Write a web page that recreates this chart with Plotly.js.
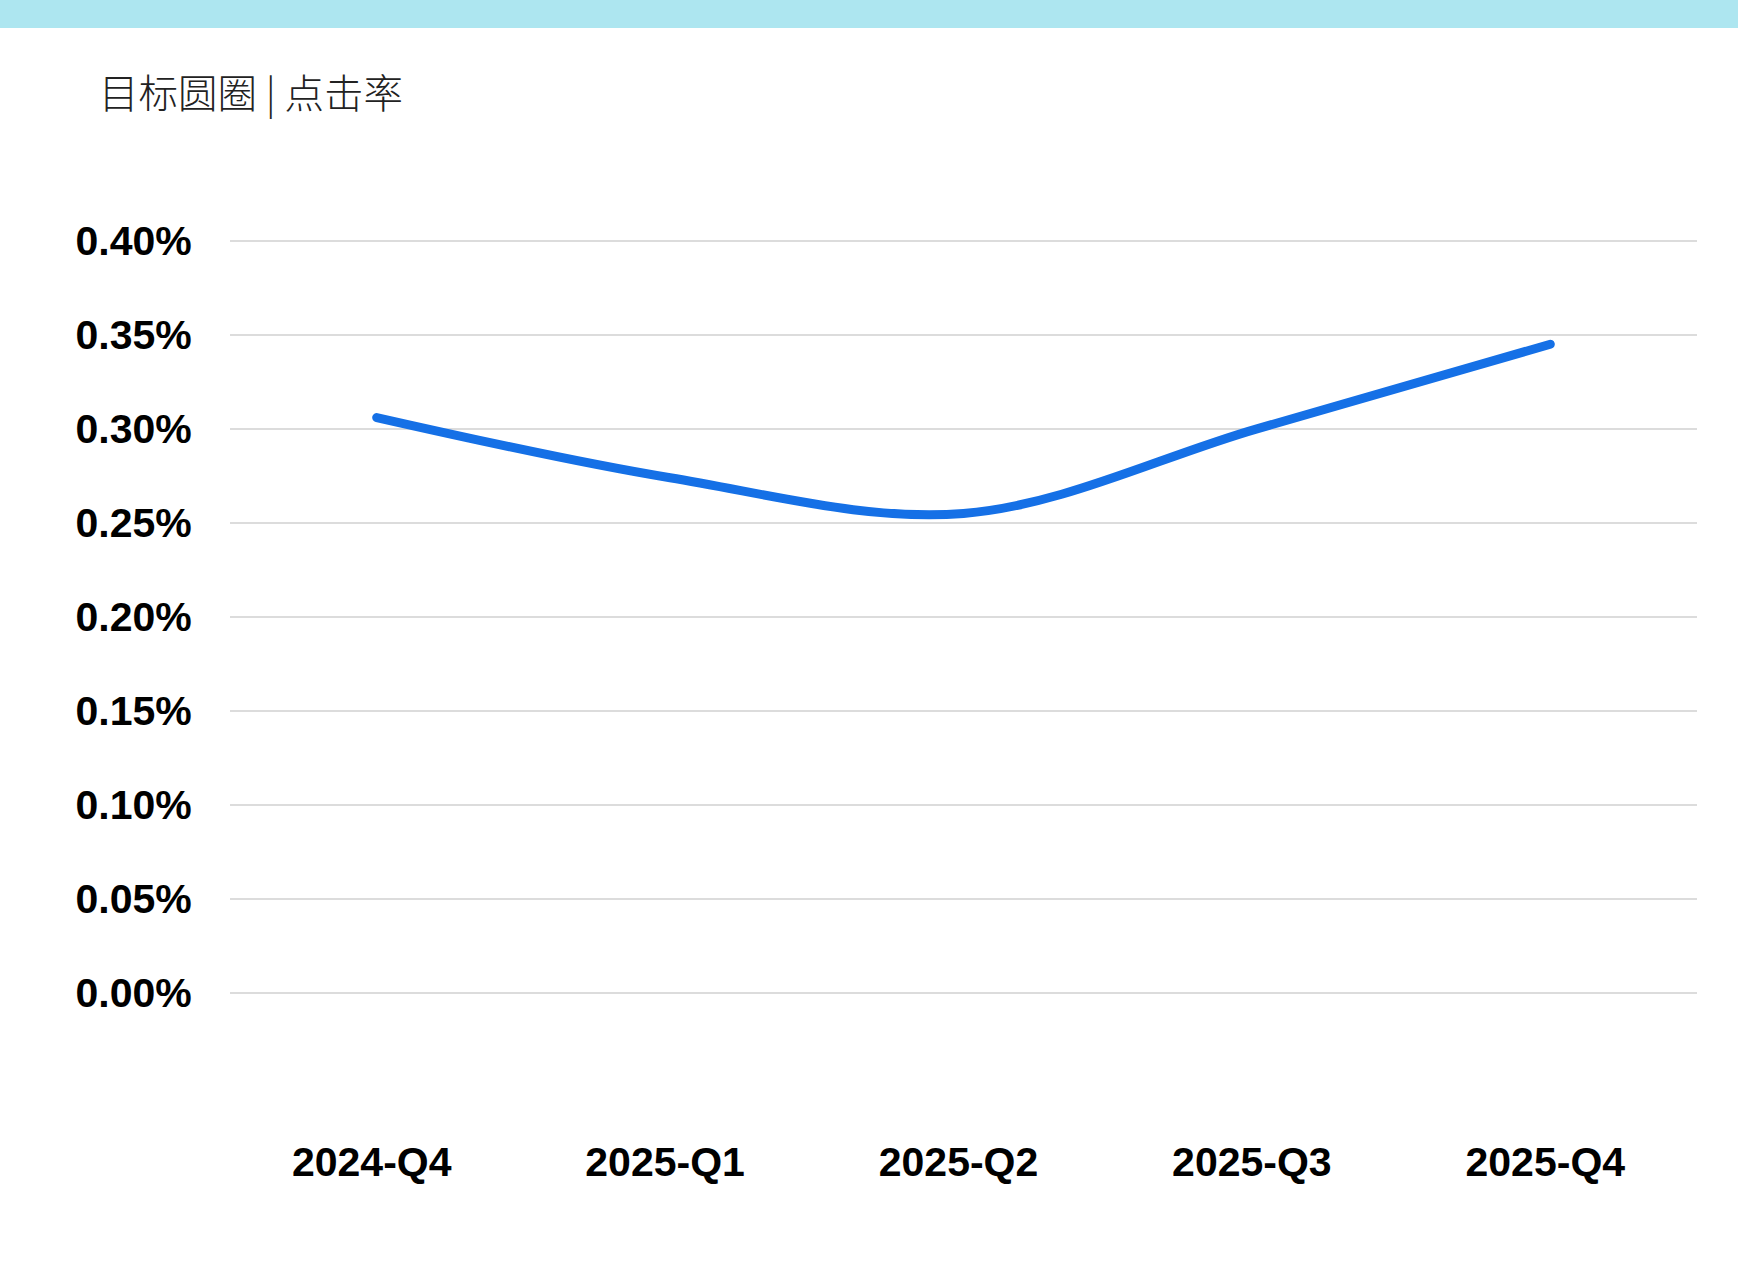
<!DOCTYPE html>
<html>
<head>
<meta charset="utf-8">
<script src="https://cdn.plot.ly/plotly-3.0.1.min.js"></script>
<style>
  html, body { margin: 0; padding: 0; background: #ffffff; }
  #chart { width: 1738px; height: 1267px; }
  #chart .scatterlayer path.js-line { stroke-linecap: round !important; stroke-linejoin: round !important; }
</style>
</head>
<body>
<div id="chart"></div>
<script>
// ---- data ----
const quarters = ['2024-Q4', '2025-Q1', '2025-Q2', '2025-Q3', '2025-Q4'];
const clickRate = [0.00306, 0.00274, 0.00255, 0.00300, 0.00345];
const yTickValues = [0, 0.0005, 0.001, 0.0015, 0.002, 0.0025, 0.003, 0.0035, 0.004];
const chartTitle = '目标圆圈 | 点击率';

const W = 1738, H = 1267;
const mL = 230, mR = 41, mT = 222, mB = 133;
const plotW = W - mL - mR;

const trace = {
  type: 'scatter',
  mode: 'lines',
  x: quarters,
  y: clickRate,
  line: { color: '#1570e6', width: 9, shape: 'spline', smoothing: 1 },
  hoverinfo: 'x+y'
};

const layout = {
  width: W,
  height: H,
  margin: { l: mL, r: mR, t: mT, b: mB, pad: 0 },
  paper_bgcolor: '#ffffff',
  plot_bgcolor: '#ffffff',
  showlegend: false,
  title: {
    text: chartTitle,
    xref: 'container', yref: 'container',
    x: 99 / W, xanchor: 'left',
    y: 1 - 94 / H, yanchor: 'middle',
    font: { family: '"Noto Sans CJK SC", "Noto Sans", sans-serif', size: 39.5, color: '#222222', weight: 300 }
  },
  xaxis: {
    type: 'category',
    range: [-0.5, 4.5],
    showgrid: false,
    zeroline: false,
    showline: false,
    ticks: '',
    ticklabelshift: -5,
    tickfont: { family: '"Liberation Sans", Arial, sans-serif', size: 41, color: '#000000', weight: 'bold' },
    fixedrange: true
  },
  yaxis: {
    range: [-0.00075, 0.0041],
    tickvals: yTickValues,
    tickformat: '.2%',
    showgrid: true,
    gridcolor: '#dcdcdc',
    gridwidth: 2,
    zeroline: false,
    showline: false,
    ticks: 'outside',
    ticklen: 29,
    tickcolor: 'rgba(0,0,0,0)',
    tickfont: { family: '"Liberation Sans", Arial, sans-serif', size: 41, color: '#000000', weight: 'bold' },
    fixedrange: true
  },
  shapes: [{
    type: 'rect',
    xref: 'paper', yref: 'paper',
    x0: -mL / plotW, x1: 1 + mR / plotW,
    y0: 1 + (mT - 28) / (H - mT - mB), y1: 1 + mT / (H - mT - mB),
    fillcolor: '#ade6f0',
    line: { width: 0 },
    layer: 'below'
  }]
};

Plotly.newPlot('chart', [trace], layout, { displayModeBar: false, staticPlot: true });
</script>
</body>
</html>
